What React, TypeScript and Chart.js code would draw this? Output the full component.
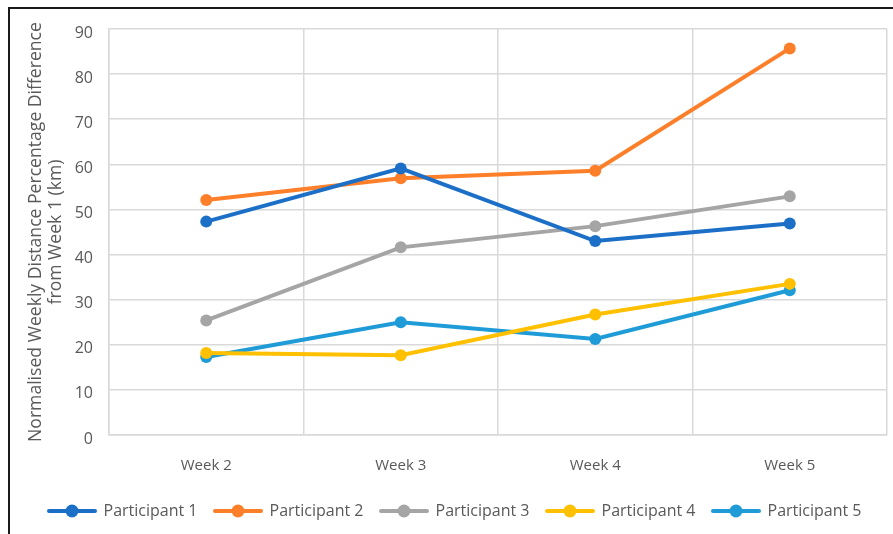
import React, { useEffect, useRef } from "react";
import { Chart, registerables } from "chart.js";

Chart.register(...registerables);

const categories = ["Week 2", "Week 3", "Week 4", "Week 5"];
const participant1 = [47.3, 59.1, 43.0, 46.9];
const participant2 = [52.1, 56.9, 58.6, 85.7];
const participant3 = [25.4, 41.6, 46.3, 52.9];
const participant4 = [18.2, 17.7, 26.7, 33.5];
const participant5 = [17.3, 25.0, 21.3, 32.1];
const seriesNames = ["Participant 1", "Participant 2", "Participant 3", "Participant 4", "Participant 5"];
const seriesColors = ["#1C6FC6", "#FD7F2A", "#A5A5A5", "#FFC000", "#1F9CD8"];
const yTicks = [0, 10, 20, 30, 40, 50, 60, 70, 80, 90];

const FONT = "'Open Sans', 'Noto Sans', sans-serif";

function legendIcon(color: string): HTMLCanvasElement {
  const c = document.createElement("canvas");
  c.width = 50;
  c.height = 14;
  const ctx = c.getContext("2d")!;
  ctx.strokeStyle = color;
  ctx.lineWidth = 4;
  ctx.lineCap = "round";
  ctx.beginPath();
  ctx.moveTo(2, 7);
  ctx.lineTo(48, 7);
  ctx.stroke();
  ctx.fillStyle = color;
  ctx.beginPath();
  ctx.arc(25, 7, 6.5, 0, Math.PI * 2);
  ctx.fill();
  return c;
}

export default function App() {
  const ref = useRef<HTMLCanvasElement | null>(null);
  useEffect(() => {
    if (!ref.current) return;
    const data = [participant1, participant2, participant3, participant4, participant5];
    const icons = seriesColors.map(legendIcon);
    const chart = new Chart(ref.current, {
      type: "line",
      data: {
        labels: categories,
        datasets: data.map((d, i) => ({
          label: seriesNames[i],
          data: d,
          borderColor: seriesColors[i],
          backgroundColor: seriesColors[i],
          borderWidth: 4,
          pointRadius: 6,
          pointHoverRadius: 6,
          pointBorderWidth: 0,
          pointBackgroundColor: seriesColors[i],
          pointStyle: "circle",
          tension: 0,
        })),
      },
      options: {
        animation: false,
        responsive: false,
        maintainAspectRatio: false,
        layout: { padding: { left: 12, top: 20, right: 5, bottom: 5 } },
        plugins: {
          tooltip: { enabled: false },
          legend: {
            position: "bottom",
            labels: {
              usePointStyle: true,
              pointStyleWidth: 47,
              boxHeight: 14,
              padding: 17,
              color: "#595959",
              font: { family: FONT, size: 16 },
              generateLabels: (ch: any) =>
                ch.data.datasets.map((ds: any, i: number) => ({
                  text: ds.label,
                  fillStyle: seriesColors[i],
                  strokeStyle: seriesColors[i],
                  lineWidth: 0,
                  pointStyle: icons[i],
                  hidden: false,
                  datasetIndex: i,
                  fontColor: "#595959",
                })),
            },
          },
        },
        scales: {
          x: {
            offset: true,
            grid: { color: "#D9D9D9", lineWidth: 1.5, offset: true, drawTicks: false },
            border: { color: "#D9D9D9", width: 1.5 },
            ticks: { color: "#595959", font: { family: FONT, size: 15 }, padding: 22 },
            afterFit: (s: any) => {
              s.height = 51;
            },
          },
          y: {
            min: 0,
            max: 90,
            afterBuildTicks: (s: any) => {
              s.ticks = yTicks.map((v) => ({ value: v }));
            },
            grid: { color: "#D9D9D9", lineWidth: 1.5, drawTicks: false },
            border: { color: "#D9D9D9", width: 1.5 },
            ticks: { color: "#595959", font: { family: FONT, size: 16 }, padding: 16, labelOffset: 4 },
            title: {
              display: true,
              text: ["Normalised Weekly Distance Percentage Difference", "from Week 1 (km)"],
              color: "#595959",
              font: { family: FONT, size: 17.6, lineHeight: 1.15 },
              padding: { top: 4, bottom: 4 },
            },
            afterFit: (s: any) => {
              s.width = 87;
              s.paddingTop = 0;
              s.paddingBottom = 0;
            },
          },
        },
      },
    });
    return () => chart.destroy();
  }, []);
  return (
    <div style={{ position: "fixed", left: 0, top: 0, width: 893, height: 534, background: "#fff", overflow: "hidden" }}>
      <div
        style={{
          position: "absolute",
          left: 8,
          top: 7,
          width: 890,
          height: 540,
          borderLeft: "2px solid #1a1a1a",
          borderTop: "2px solid #1a1a1a",
        }}
      />
      <canvas ref={ref} width={883} height={525} style={{ position: "absolute", left: 10, top: 9, width: 883, height: 525 }} />
    </div>
  );
}
